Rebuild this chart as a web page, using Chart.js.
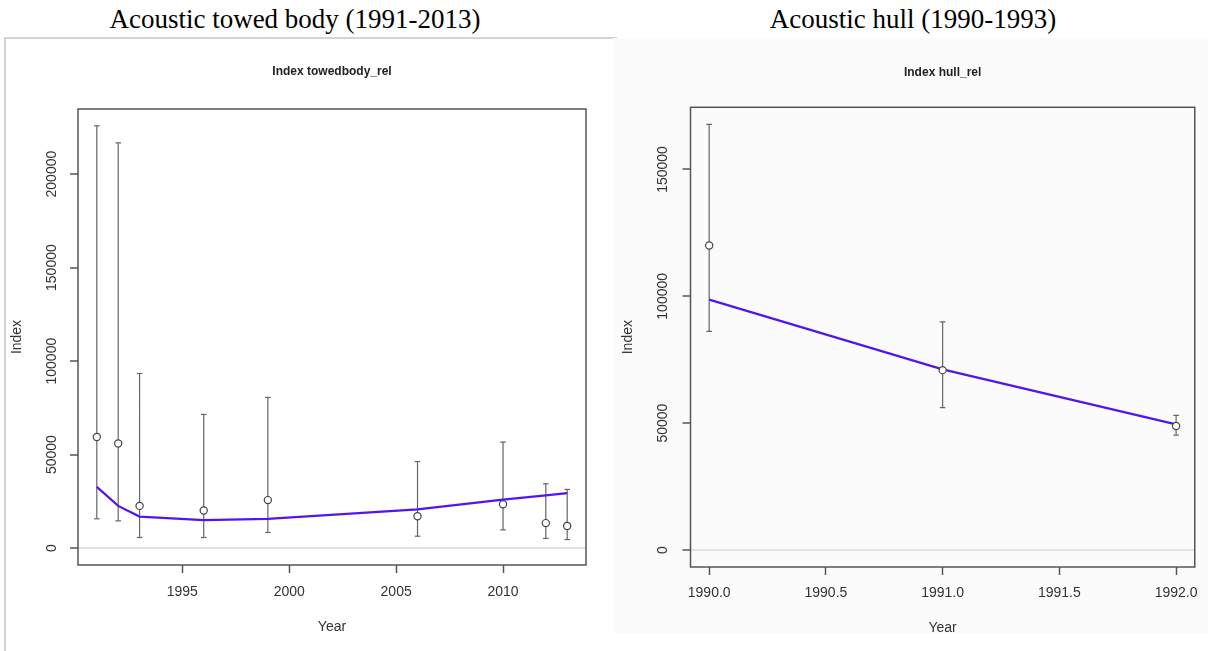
<!DOCTYPE html>
<html>
<head>
<meta charset="utf-8">
<script src="https://cdn.jsdelivr.net/npm/chart.js@4.4.1/dist/chart.umd.min.js"></script>
<style>
  html, body { margin: 0; padding: 0; background: #fff; }
  body { width: 1208px; height: 651px; position: relative; overflow: hidden; }
  .heading { position: absolute; top: 2px; font-family: "Liberation Serif", "Times New Roman", serif; font-size: 27px; line-height: 34px; white-space: nowrap; transform: translateX(-50%); color: #000; }
  #left-frame { position: absolute; left: 4px; top: 37px; width: 611px; height: 614px; border-top: 2px solid #d4d4d4; border-left: 2px solid #d4d4d4; }
  #right-frame { position: absolute; left: 613px; top: 38px; width: 595px; height: 595px; background: #fbfbfb; overflow: hidden; }
  canvas { position: absolute; left: 0; top: 0; }
</style>
</head>
<body>
<div class="heading" style="left:295px">Acoustic towed body (1991-2013)</div>
<div class="heading" style="left:913px">Acoustic hull (1990-1993)</div>
<div id="left-frame"><canvas id="towed-chart" width="602" height="612"></canvas></div>
<div id="right-frame"><canvas id="hull-chart" width="595" height="615"></canvas></div>
<script>
// towed body survey (1991-2013)
const towedYears = [1991, 1992, 1993, 1996, 1999, 2006, 2010, 2012, 2013];
const towedIndex = [59400, 56000, 22600, 20100, 25700, 17100, 23500, 13400, 11900];
const towedLower = [15700, 14600, 5700, 5700, 8400, 6400, 9800, 5200, 4600];
const towedUpper = [225800, 216700, 93400, 71500, 80600, 46300, 56700, 34400, 31400];
const towedFit = [32800, 22600, 16900, 15000, 15700, 20700, 26000, 28200, 29400];
const towedXTicks = [1995, 2000, 2005, 2010];
const towedYTicks = [0, 50000, 100000, 150000, 200000];

// hull survey (1990-1993)
const hullYears = [1990, 1991, 1992];
const hullIndex = [120000, 70900, 48900];
const hullLower = [86200, 56100, 45300];
const hullUpper = [167800, 89900, 53100];
const hullFit = [98700, 71200, 49500];
const hullXTicks = [1990, 1990.5, 1991, 1991.5, 1992];
const hullYTicks = [0, 50000, 100000, 150000];

const AXIS_COLOR = "#555";
const TEXT_COLOR = "#333";
const FIT_COLOR = "#5214f2";
const tickFont = { family: "'Liberation Sans', Arial, sans-serif", size: 14 };

const boxPlugin = {
  id: "rbox",
  beforeDatasetsDraw(chart) {
    const { ctx, chartArea: a } = chart;
    ctx.save();
    ctx.strokeStyle = AXIS_COLOR;
    ctx.lineWidth = 1.5;
    ctx.strokeRect(a.left, a.top, a.right - a.left, a.bottom - a.top);
    ctx.restore();
  },
};

function makeChart(canvasId, s) {
  const errorData = [];
  s.years.forEach((yr, i) => {
    errorData.push({ x: yr, y: s.lower[i] }, { x: yr, y: s.upper[i] }, { x: yr, y: null });
  });

  return new Chart(document.getElementById(canvasId), {
    type: "line",
    data: {
      datasets: [
        {
          data: s.years.map((yr, i) => ({ x: yr, y: s.index[i] })),
          showLine: false,
          pointRadius: 3.6,
          pointBorderWidth: 1.2,
          pointBorderColor: "#444",
          pointBackgroundColor: "#fff",
        },
        {
          data: s.years.map((yr, i) => ({ x: yr, y: s.fit[i] })),
          borderColor: FIT_COLOR,
          borderWidth: 2.2,
          pointRadius: 0,
          tension: 0,
        },
        {
          data: errorData,
          borderColor: "#666",
          borderWidth: 1.2,
          spanGaps: false,
          pointStyle: "line",
          pointRadius: 2.8,
          pointBorderWidth: 1.2,
          pointBorderColor: "#666",
        },
      ],
    },
    options: {
      responsive: false,
      animation: false,
      layout: { padding: s.padding },
      plugins: {
        legend: { display: false },
        tooltip: { enabled: false },
        title: {
          display: true,
          text: s.title,
          fullSize: false,
          color: "#222",
          font: { family: "'Liberation Sans', Arial, sans-serif", size: 12, weight: "bold" },
          padding: s.titlePadding,
        },
      },
      scales: {
        x: {
          type: "linear",
          min: s.xMin,
          max: s.xMax,
          afterBuildTicks: (scale) => { scale.ticks = s.xTicks.map((v) => ({ value: v })); },
          afterFit: (scale) => { scale.height = s.xAxisHeight; },
          grid: { display: true, drawOnChartArea: false, tickLength: 8, tickWidth: 1.5, tickColor: AXIS_COLOR },
          border: { display: false },
          ticks: { color: TEXT_COLOR, font: tickFont, padding: s.xTickPad, maxRotation: 0, autoSkip: false, callback: s.xFormat },
          title: { display: true, text: "Year", color: TEXT_COLOR, font: tickFont, padding: 0 },
        },
        y: {
          min: s.yMin,
          max: s.yMax,
          afterBuildTicks: (scale) => { scale.ticks = s.yTicks.map((v) => ({ value: v })); },
          afterFit: (scale) => { scale.width = s.yAxisWidth; },
          grid: {
            tickLength: 8,
            tickWidth: 1.5,
            tickColor: AXIS_COLOR,
            lineWidth: 2,
            color: (c) => (c.tick && c.tick.value === 0 ? "#e4e4e4" : "rgba(0,0,0,0)"),
          },
          border: { display: false },
          ticks: { color: TEXT_COLOR, font: tickFont, minRotation: 90, maxRotation: 90, crossAlign: "center", padding: s.yTickPad, autoSkip: false, callback: (v) => String(v) },
          title: { display: true, text: "Index", color: TEXT_COLOR, font: tickFont, padding: { top: s.yTitlePad, bottom: 0 } },
        },
      },
    },
    plugins: [boxPlugin],
  });
}

makeChart("towed-chart", {
  years: towedYears, index: towedIndex, lower: towedLower, upper: towedUpper, fit: towedFit,
  xTicks: towedXTicks, yTicks: towedYTicks,
  xMin: 1990.12, xMax: 2013.88, yMin: -9000, yMax: 234800,
  title: "Index towedbody_rel",
  titlePadding: { top: 25.8, bottom: 29.8 },
  padding: { left: 0, right: 22, top: 0, bottom: 15.6 },
  xAxisHeight: 70.4, yAxisWidth: 72,
  xTickPad: 11, yTickPad: -5, yTitlePad: 2.3,
  xFormat: (v) => String(v),
});

makeChart("hull-chart", {
  years: hullYears, index: hullIndex, lower: hullLower, upper: hullUpper, fit: hullFit,
  xTicks: hullXTicks, yTicks: hullYTicks,
  xMin: 1989.92, xMax: 1992.08, yMin: -6700, yMax: 174500,
  title: "Index hull_rel",
  titlePadding: { top: 27.8, bottom: 27.1 },
  padding: { left: 0, right: 6.4, top: 0, bottom: 16.6 },
  xAxisHeight: 69.4, yAxisWidth: 77.5,
  xTickPad: 10, yTickPad: -4, yTitlePad: 6.9,
  xFormat: (v) => Number(v).toFixed(1),
});
</script>
</body>
</html>
